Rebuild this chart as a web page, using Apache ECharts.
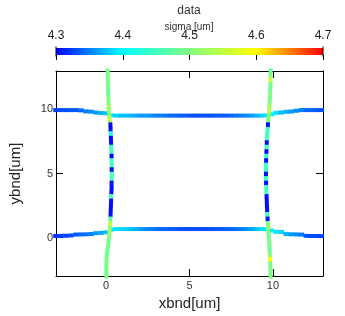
<!DOCTYPE html>
<html><head><meta charset="utf-8">
<script src="https://cdn.jsdelivr.net/npm/echarts@6/dist/echarts.min.js"></script>
<style>html,body{margin:0;padding:0;background:#fff}#c{width:345px;height:316px}</style>
</head><body><div id="c"></div>
<script>
// Horizontal boundary samples (x positions shared by top and bottom lines)
const hX = [-3.0,-2.7,-2.4,-2.1,-1.8,-1.5,-1.2,-0.9,-0.6,-0.3,0.0,0.3,0.6,0.9,1.2,1.5,1.8,2.1,2.4,2.7,
  3.0,3.3,3.6,3.9,4.2,4.5,4.8,5.1,5.4,5.7,6.0,6.3,6.6,6.9,7.2,7.5,7.8,8.1,8.4,8.7,
  9.0,9.3,9.6,9.9,10.2,10.5,10.8,11.1,11.4,11.7,12.0,12.3,12.6,12.9];
const topY = [9.95,9.95,9.95,9.95,9.95,9.93,9.85,9.83,9.76,9.72,9.7,9.55,9.52,9.52,9.52,9.52,9.52,9.52,9.52,9.52,
  9.52,9.52,9.52,9.52,9.52,9.52,9.52,9.52,9.52,9.52,9.52,9.52,9.52,9.52,9.52,9.52,9.52,9.52,9.52,9.52,
  9.52,9.52,9.53,9.62,9.74,9.76,9.82,9.84,9.9,9.95,9.95,9.95,9.95,9.95];
const topV = [4.325,4.33,4.33,4.335,4.335,4.34,4.35,4.355,4.36,4.37,4.375,4.39,4.385,4.375,4.375,4.37,4.365,4.36,4.36,4.355,
  4.35,4.35,4.345,4.34,4.34,4.335,4.335,4.33,4.33,4.33,4.33,4.33,4.335,4.335,4.335,4.34,4.345,4.35,4.355,4.36,
  4.37,4.38,4.39,4.395,4.39,4.375,4.37,4.36,4.355,4.35,4.34,4.34,4.335,4.33];
const botY = [0.13,0.14,0.15,0.17,0.24,0.25,0.26,0.28,0.35,0.37,0.42,0.62,0.67,0.67,0.67,0.67,0.67,0.67,0.67,0.67,
  0.67,0.67,0.67,0.67,0.67,0.67,0.67,0.67,0.67,0.67,0.67,0.67,0.67,0.67,0.67,0.67,0.67,0.67,0.67,0.67,
  0.67,0.67,0.65,0.55,0.46,0.44,0.28,0.26,0.25,0.24,0.14,0.13,0.13,0.12];
const botV = [4.32,4.325,4.325,4.33,4.335,4.34,4.345,4.35,4.36,4.365,4.375,4.39,4.39,4.385,4.38,4.375,4.37,4.36,4.355,4.35,
  4.345,4.34,4.34,4.335,4.335,4.33,4.33,4.33,4.33,4.33,4.33,4.33,4.335,4.335,4.34,4.34,4.345,4.35,4.355,4.365,
  4.375,4.385,4.39,4.395,4.39,4.385,4.37,4.36,4.355,4.35,4.335,4.33,4.33,4.325];
// Vertical boundary samples (y positions shared by left and right lines)
const vY = [13.0,12.65,12.3,11.95,11.6,11.25,10.9,10.55,10.2,9.85,9.5,9.15,8.8,8.45,8.1,7.75,7.4,7.05,6.7,6.35,
  6.0,5.65,5.3,4.95,4.6,4.25,3.9,3.55,3.2,2.85,2.5,2.15,1.8,1.45,1.1,0.75,0.4,0.05,-0.3,-0.65,
  -1.0,-1.35,-1.7,-2.05,-2.4,-2.75,-3.0];
const leftX = [0.10,0.10,0.11,0.12,0.12,0.13,0.14,0.15,0.16,0.18,0.2,0.22,0.26,0.27,0.28,0.29,0.30,0.31,0.32,0.33,
  0.33,0.34,0.34,0.34,0.34,0.33,0.33,0.32,0.31,0.30,0.29,0.28,0.27,0.26,0.24,0.22,0.2,0.18,0.15,0.12,
  0.08,0.05,0.03,0.02,0.02,0.02,0.02];
const leftV = [4.49,4.5,4.49,4.5,4.49,4.48,4.5,4.5,4.52,4.51,4.53,4.55,4.305,4.305,4.42,4.305,4.305,4.45,4.45,4.305,
  4.45,4.45,4.305,4.45,4.45,4.305,4.305,4.305,4.45,4.305,4.305,4.305,4.305,4.47,4.55,4.52,4.53,4.5,4.49,4.5,
  4.49,4.48,4.5,4.49,4.5,4.49,4.5];
const rightX = [9.86,9.86,9.85,9.85,9.84,9.83,9.82,9.80,9.79,9.77,9.75,9.72,9.70,9.68,9.66,9.64,9.63,9.62,9.61,9.60,
  9.59,9.58,9.58,9.58,9.58,9.59,9.60,9.61,9.62,9.63,9.64,9.65,9.66,9.68,9.70,9.72,9.74,9.76,9.77,9.79,
  9.80,9.82,9.83,9.84,9.85,9.86,9.86];
const rightV = [4.48,4.5,4.56,4.49,4.48,4.5,4.49,4.5,4.53,4.54,4.52,4.5,4.305,4.45,4.45,4.45,4.305,4.45,4.305,4.45,
  4.305,4.45,4.45,4.305,4.45,4.305,4.45,4.45,4.305,4.305,4.305,4.305,4.45,4.305,4.5,4.52,4.5,4.49,4.5,4.49,
  4.48,4.5,4.6,4.49,4.5,4.49,4.5];
const xTicks = [0, 5, 10];
const yTicks = [0, 5, 10];
const cbTicks = [4.3, 4.4, 4.5, 4.6, 4.7];
const cbRange = [4.3, 4.7];
const jet = ['#0000ff', '#00ffff', '#80ff80', '#ffff00', '#ff0000'];

const FONT = 'Liberation Sans, Arial, sans-serif';
const chart = echarts.init(document.getElementById('c'), null, {renderer: 'canvas'});

const hSeries = (ys, vs) => hX.map((x, i) => [x, ys[i], vs[i]]);
const vSeries = (xs, vs) => vY.map((y, i) => [xs[i], y, vs[i]]);

const gradient = new echarts.graphic.LinearGradient(0, 0, 1, 0,
  jet.map((c, i) => ({offset: i / (jet.length - 1), color: c})));

const axisBase = {
  axisLine: {show: true, onZero: false, lineStyle: {color: '#000', width: 1}},
  splitLine: {show: false}
};

const markStyle = {opacity: 1};

chart.setOption({
  animation: false,
  textStyle: {fontFamily: FONT},
  graphic: [
    {type: 'text', x: 189, y: 11, style: {text: 'data', fill: '#333', font: '12px ' + FONT, align: 'center', verticalAlign: 'middle'}},
    {type: 'text', x: 189, y: 27, style: {text: 'sigma [um]', fill: '#333', font: '10px ' + FONT, align: 'center', verticalAlign: 'middle'}}
  ],
  grid: [
    {left: 56, right: 22, top: 71, bottom: 36},
    {left: 56, right: 22, top: 48, height: 7}
  ],
  visualMap: {
    type: 'continuous', show: false, min: 4.3, max: 4.7, dimension: 2,
    seriesIndex: [0, 1, 2, 3], inRange: {color: jet}
  },
  xAxis: [
    Object.assign({}, axisBase, {
      gridIndex: 0, type: 'value', min: -3, max: 13, position: 'bottom',
      axisTick: {show: true, inside: true, length: 7, customValues: xTicks, lineStyle: {color: '#000'}},
      axisLabel: {show: true, customValues: xTicks, fontSize: 11, color: '#333', margin: 4},
      name: 'xbnd[um]', nameLocation: 'middle', nameGap: 14,
      nameTextStyle: {fontSize: 15, color: '#222', verticalAlign: 'top'}
    }),
    Object.assign({}, axisBase, {
      gridIndex: 0, type: 'value', min: -3, max: 13, position: 'top',
      axisTick: {show: true, inside: true, length: 7, customValues: xTicks, lineStyle: {color: '#000'}},
      axisLabel: {show: false}
    }),
    {
      gridIndex: 1, type: 'value', min: cbRange[0], max: cbRange[1], position: 'top',
      axisLine: {show: false}, splitLine: {show: false},
      axisTick: {show: true, inside: true, length: 5, customValues: cbTicks, lineStyle: {color: '#000'}},
      axisLabel: {show: true, customValues: cbTicks, fontSize: 12, color: '#222', margin: 6,
        formatter: v => v.toFixed(1)}
    }
  ],
  yAxis: [
    Object.assign({}, axisBase, {
      gridIndex: 0, type: 'value', min: -3, max: 13, position: 'left',
      axisTick: {show: true, inside: true, length: 7, customValues: yTicks, lineStyle: {color: '#000'}},
      axisLabel: {show: true, customValues: yTicks, fontSize: 11, color: '#333', margin: 3},
      name: 'ybnd[um]', nameLocation: 'middle', nameGap: 33, nameRotate: 90,
      nameTextStyle: {fontSize: 15, color: '#222'}
    }),
    Object.assign({}, axisBase, {
      gridIndex: 0, type: 'value', min: -3, max: 13, position: 'right',
      axisTick: {show: true, inside: true, length: 7, customValues: yTicks, lineStyle: {color: '#000'}},
      axisLabel: {show: false}
    }),
    {gridIndex: 1, type: 'value', min: 0, max: 1, show: false}
  ],
  series: [
    {type: 'scatter', xAxisIndex: 0, yAxisIndex: 0, symbol: 'rect', symbolSize: [5.5, 4], z: 2,
      itemStyle: markStyle, data: hSeries(topY, topV), emphasis: {disabled: true}, silent: true},
    {type: 'scatter', xAxisIndex: 0, yAxisIndex: 0, symbol: 'rect', symbolSize: [5.5, 4], z: 2,
      itemStyle: markStyle, data: hSeries(botY, botV), emphasis: {disabled: true}, silent: true},
    {type: 'scatter', xAxisIndex: 0, yAxisIndex: 0, symbol: 'rect', symbolSize: [4, 5], z: 3,
      itemStyle: markStyle, data: vSeries(leftX, leftV), emphasis: {disabled: true}, silent: true},
    {type: 'scatter', xAxisIndex: 0, yAxisIndex: 0, symbol: 'rect', symbolSize: [4, 5], z: 3,
      itemStyle: markStyle, data: vSeries(rightX, rightV), emphasis: {disabled: true}, silent: true},
    {
      type: 'custom', xAxisIndex: 2, yAxisIndex: 2, silent: true,
      data: [[cbRange[0], cbRange[1]]],
      encode: {x: [0, 1]},
      renderItem: function (params, api) {
        const p0 = api.coord([api.value(0), 0]);
        const p1 = api.coord([api.value(1), 1]);
        return {
          type: 'group',
          children: [
            {type: 'rect', shape: {x: p0[0], y: p1[1], width: p1[0] - p0[0], height: p0[1] - p1[1]},
              style: {fill: gradient}},
            {type: 'line', shape: {x1: p0[0], y1: p1[1] - 1.5, x2: p0[0], y2: p0[1] + 1.5},
              style: {stroke: '#000', lineWidth: 1}},
            {type: 'line', shape: {x1: p1[0], y1: p1[1] - 1.5, x2: p1[0], y2: p0[1] + 1.5},
              style: {stroke: '#000', lineWidth: 1}}
          ]
        };
      }
    }
  ]
});
</script>
</body></html>
